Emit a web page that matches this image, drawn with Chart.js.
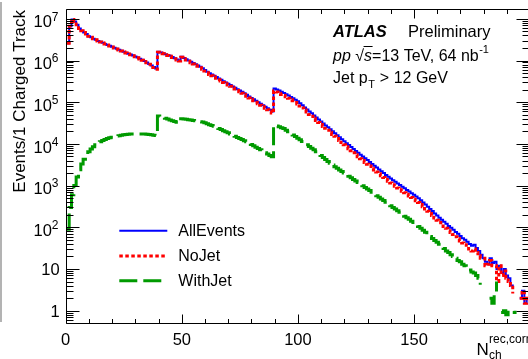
<!DOCTYPE html>
<html>
<head>
<meta charset="utf-8">
<script src="https://cdn.jsdelivr.net/npm/chart.js@4/dist/chart.umd.min.js"></script>
<style>
  html, body { margin: 0; padding: 0; background: #fff; overflow: hidden; }
  #wrap { width: 528px; height: 359px; overflow: hidden; position: relative; }
  canvas { display: block; }
</style>
</head>
<body>
<div id="wrap"><canvas id="nchChart" width="545" height="359"></canvas></div>
<script>
// N_ch histogram, bins of width 1 centred on 1..199
const allEvents = [
  2.6e6, 6.6e6, 9.6e6, 8.6e6, 7.2e6, 5.9e6, 5.2e6, 4.7e6, 4.3e6, 3.8e6,
  3.6e6, 3.35e6, 3.15e6, 2.95e6, 2.8e6, 2.65e6, 2.5e6, 2.37e6, 2.25e6, 2.13e6,
  2.02e6, 1.91e6, 1.8e6, 1.71e6, 1.62e6, 1.54e6, 1.46e6, 1.39e6, 1.32e6, 1.25e6,
  1.18e6, 1.11e6, 1.04e6, 9.7e5, 9.0e5, 8.3e5, 7.6e5, 7.0e5, 6.4e5, 1.62e6,
  1.56e6, 1.49e6, 1.42e6, 1.36e6, 1.31e6, 1.22e6, 1.13e6, 1.06e6, 1.0e6, 1.23e6,
  1.15e6, 1.07e6, 1.0e6, 9.3e5, 8.7e5, 8.1e5, 7.6e5, 7.1e5, 6.5e5, 5.9e5,
  5.4e5, 4.95e5, 4.6e5, 4.3e5, 4.0e5, 3.7e5, 3.45e5, 3.2e5, 2.98e5, 2.77e5,
  2.57e5, 2.39e5, 2.22e5, 2.06e5, 1.92e5, 1.78e5, 1.65e5, 1.5e5, 1.38e5, 1.27e5,
  1.17e5, 1.08e5, 1.0e5, 9.2e4, 8.5e4, 7.8e4, 7.2e4, 6.6e4, 6.0e4, 2.14e5,
  2.02e5, 1.9e5, 1.78e5, 1.67e5, 1.56e5, 1.45e5, 1.34e5, 1.24e5, 1.14e5, 1.05e5,
  9.4e4, 8.4e4, 7.5e4, 6.7e4, 6.0e4, 5.4e4, 4.8e4, 4.3e4, 3.85e4, 3.45e4,
  3.1e4, 2.78e4, 2.5e4, 2.24e4, 2.0e4, 1.8e4, 1.61e4, 1.45e4, 1.3e4, 1.16e4,
  1.04e4, 9.4e3, 8.4e3, 7.5e3, 6.8e3, 6.1e3, 5.5e3, 5.0e3, 4.5e3, 4.1e3,
  3.7e3, 3.3e3, 3.0e3, 2.7e3, 2.45e3, 2.2e3, 2.0e3, 1.8e3, 1.63e3, 1.48e3,
  1350, 1240, 1130, 1030, 940, 860, 790, 720, 660, 600,
  550, 500, 445, 395, 350, 310, 275, 245, 215, 192,
  170, 152, 136, 122, 108, 97, 87, 77, 70, 62,
  55, 50, 45, 40, 36, 38, 32, 27, 22, 18,
  15, 13, 18, 14, 15, 10, 12, 8, 10, 7,
  6, 4, 3.5, 0, 0, 2, 3, 1.5, 2
];
const noJet = [
  2.6e6, 6.6e6, 9.6e6, 8.6e6, 7.2e6, 5.9e6, 5.2e6, 4.7e6, 4.3e6, 3.8e6,
  3.6e6, 3.34e6, 3.14e6, 2.94e6, 2.79e6, 2.64e6, 2.49e6, 2.36e6, 2.24e6, 2.12e6,
  2.0e6, 1.89e6, 1.78e6, 1.69e6, 1.6e6, 1.52e6, 1.44e6, 1.37e6, 1.3e6, 1.23e6,
  1.16e6, 1.09e6, 1.02e6, 9.5e5, 8.8e5, 8.1e5, 7.4e5, 6.8e5, 6.2e5, 1.57e6,
  1.51e6, 1.45e6, 1.38e6, 1.32e6, 1.27e6, 1.18e6, 1.1e6, 1.03e6, 9.7e5, 1.19e6,
  1.11e6, 1.03e6, 9.6e5, 8.9e5, 8.3e5, 7.7e5, 7.25e5, 6.75e5, 6.15e5, 5.6e5,
  5.1e5, 4.65e5, 4.3e5, 4.0e5, 3.75e5, 3.45e5, 3.23e5, 2.99e5, 2.78e5, 2.58e5,
  2.4e5, 2.23e5, 2.07e5, 1.92e5, 1.79e5, 1.65e5, 1.53e5, 1.39e5, 1.27e5, 1.17e5,
  1.08e5, 1.0e5, 9.2e4, 8.5e4, 7.8e4, 7.2e4, 6.6e4, 6.1e4, 5.5e4, 1.86e5,
  1.75e5, 1.64e5, 1.54e5, 1.44e5, 1.35e5, 1.25e5, 1.16e5, 1.08e5, 9.9e4, 9.1e4,
  8.1e4, 7.3e4, 6.5e4, 5.8e4, 5.1e4, 4.6e4, 4.1e4, 3.65e4, 3.27e4, 2.93e4,
  2.63e4, 2.36e4, 2.12e4, 1.9e4, 1.69e4, 1.52e4, 1.35e4, 1.21e4, 1.08e4, 9.6e3,
  8.6e3, 7.7e3, 6.9e3, 6.1e3, 5.5e3, 4.9e3, 4.4e3, 4.0e3, 3.6e3, 3.27e3,
  2.94e3, 2.6e3, 2.37e3, 2.12e3, 1.92e3, 1.72e3, 1.56e3, 1.4e3, 1.27e3, 1.15e3,
  1050, 965, 880, 800, 735, 675, 620, 565, 520, 470,
  432, 395, 350, 310, 274, 242, 215, 191, 167, 148,
  131, 117, 105, 95, 83, 75, 67, 59, 54, 47,
  42, 38, 34, 30, 27, 30, 25, 21, 18, 18,
  12, 13, 16, 12, 12, 5, 12, 7, 9, 6,
  5, 4, 2.6, 0, 0, 2, 3, 1.5, 2
];
const withJet = [
  90, 300, 600, 1000, 1600, 2400, 3300, 4300, 5400, 6500,
  7600, 8600, 9600, 10500, 11300, 12100, 12800, 13400, 14000, 14500,
  15000, 15400, 15800, 16200, 16500, 16800, 17000, 17200, 17300, 17400,
  17400, 17400, 17300, 17200, 17000, 16800, 16500, 16200, 15900, 47000,
  45500, 44000, 41500, 39500, 37500, 36000, 34500, 33000, 32000, 40000,
  39500, 39000, 38200, 37400, 36600, 35800, 35000, 34200, 33500, 32000,
  30500, 29000, 27800, 26400, 25000, 23500, 22100, 20800, 19500, 18400,
  17300, 16200, 15200, 14300, 13500, 12700, 11900, 11200, 10500, 9700,
  9000, 8350, 7750, 7200, 6650, 6150, 5700, 5300, 4900, 28000,
  27000, 25800, 24500, 23300, 21400, 19600, 17900, 16400, 15000, 13700,
  12500, 11400, 10400, 9500, 8700, 7900, 7200, 6500, 5850, 5250,
  4700, 4250, 3800, 3450, 3100, 2850, 2600, 2380, 2180, 2000,
  1830, 1680, 1540, 1410, 1290, 1180, 1080, 990, 900, 830,
  760, 690, 630, 575, 525, 480, 440, 400, 365, 330,
  300, 275, 250, 230, 205, 185, 170, 155, 140, 130,
  118, 105, 95, 85, 76, 68, 60, 54, 48, 44,
  39, 35, 31, 27, 25, 22, 20, 18, 16, 15,
  13, 12, 11, 9.5, 8.5, 8, 7, 6, 4.2, 0,
  2.5, 0, 2, 1.5, 2.5, 5, 0, 0.9, 1, 0.8,
  1, 0, 0.9, 1, 0, 0, 0, 0, 0
];
const nchCentres = allEvents.map((v, k) => k + 1);
const xTickValues = [0, 50, 100, 150];
const yDecades = [1, 10, 1e2, 1e3, 1e4, 1e5, 1e6, 1e7];

const FONT = '"Liberation Sans", Arial, Helvetica, sans-serif';

// histogram outline: one point at each bin's left edge, plus the last right edge
function histPoints(values) {
  const pts = values.map((v, k) => ({ x: nchCentres[k] - 0.5, y: v }));
  pts.push({ x: nchCentres[nchCentres.length - 1] + 0.5, y: values[values.length - 1] });
  return pts;
}

// ROOT style frame, inward ticks, labels and text
const rootStyle = {
  id: 'rootStyle',
  afterDatasetsDraw(chart) {
    const { ctx, chartArea: a, scales: { x, y } } = chart;
    const L = Math.round(a.left) + 0.5, T = Math.round(a.top) + 0.5;
    const B = Math.round(a.bottom) + 0.5, R = Math.round(a.right) + 0.5;
    ctx.save();
    ctx.strokeStyle = '#000';
    ctx.lineWidth = 1;
    ctx.beginPath();
    ctx.moveTo(L, B); ctx.lineTo(L, T); ctx.lineTo(R, T); ctx.lineTo(R, B); ctx.lineTo(L, B);
    // x ticks, minor every 10
    for (let v = 0; v <= x.max; v += 10) {
      const px = Math.round(x.getPixelForValue(v)) + 0.5;
      const len = v % 50 === 0 ? 9 : 4.5;
      ctx.moveTo(px, B); ctx.lineTo(px, B - len);
      ctx.moveTo(px, T); ctx.lineTo(px, T + len);
    }
    // y ticks, log
    for (let n = -1; n <= 7; n++) {
      for (let k = 1; k <= 9; k++) {
        const v = k * Math.pow(10, n);
        if (v < y.min || v > y.max) continue;
        const py = Math.round(y.getPixelForValue(v)) + 0.5;
        const len = k === 1 ? 13 : 7;
        ctx.moveTo(L, py); ctx.lineTo(L + len, py);
        ctx.moveTo(R, py); ctx.lineTo(R - len, py);
      }
    }
    ctx.stroke();
    ctx.restore();
  },
  afterDraw(chart) {
    const { ctx, scales: { y } } = chart;
    ctx.save();
    ctx.fillStyle = '#000';

    // y tick labels
    yDecades.forEach((v) => {
      const py = y.getPixelForValue(v);
      const n = Math.round(Math.log10(v));
      if (n <= 1) {
        ctx.font = '16.5px ' + FONT;
        ctx.textAlign = 'right';
        ctx.textBaseline = 'alphabetic';
        ctx.fillText(String(v), 59.7, py + 6);
      } else {
        ctx.font = '12px ' + FONT;
        ctx.textAlign = 'right';
        ctx.textBaseline = 'alphabetic';
        const ew = ctx.measureText(String(n)).width;
        ctx.fillText(String(n), 58.5, py + 1.8);
        ctx.font = '16.5px ' + FONT;
        ctx.fillText('10', 58.5 - ew, py + 8.6);
      }
    });

    // y title
    ctx.save();
    ctx.translate(25.3, 10);
    ctx.rotate(-Math.PI / 2);
    ctx.font = '17px ' + FONT;
    ctx.textAlign = 'right';
    ctx.textBaseline = 'alphabetic';
    ctx.fillText('Events/1 Charged Track', 0, 0);
    ctx.restore();

    // x title N_ch^{rec,corr}
    ctx.textAlign = 'left';
    ctx.textBaseline = 'alphabetic';
    ctx.font = '17px ' + FONT;
    ctx.fillText('N', 476.5, 354.5);
    ctx.font = '12px ' + FONT;
    ctx.fillText('ch', 489, 358.5);
    ctx.fillText('rec,corr', 489, 342.5);

    // ATLAS label
    ctx.font = 'italic bold 16.5px ' + FONT;
    ctx.fillText('ATLAS', 333, 37);
    ctx.font = '16.5px ' + FONT;
    ctx.fillText('Preliminary', 408, 37);

    // pp sqrt(s)=13 TeV, 64 nb-1
    let cx = 333;
    ctx.font = 'italic 16px ' + FONT;
    ctx.fillText('pp', cx, 60.7);
    cx += ctx.measureText('pp').width + 4.5;
    ctx.font = '16px ' + FONT;
    ctx.fillText('\u221A', cx, 60.7);
    cx += ctx.measureText('\u221A').width;
    ctx.font = 'italic 16px ' + FONT;
    const sw = ctx.measureText('s').width;
    ctx.fillText('s', cx, 60.7);
    ctx.beginPath();
    ctx.lineWidth = 1;
    ctx.strokeStyle = '#000';
    ctx.moveTo(cx - 0.5, 46.5); ctx.lineTo(cx + sw + 0.5, 46.5);
    ctx.stroke();
    cx += sw;
    ctx.font = '16px ' + FONT;
    ctx.fillText('=13 TeV, 64 nb', cx, 60.7);
    cx += ctx.measureText('=13 TeV, 64 nb').width;
    ctx.font = '11px ' + FONT;
    ctx.fillText('-1', cx + 0.5, 53);

    // Jet pT > 12 GeV
    cx = 333;
    ctx.font = '16px ' + FONT;
    ctx.fillText('Jet p', cx, 82.7);
    cx += ctx.measureText('Jet p').width;
    ctx.font = '11px ' + FONT;
    ctx.fillText('T', cx + 0.5, 88);
    cx += ctx.measureText('T').width + 1;
    ctx.font = '16px ' + FONT;
    ctx.fillText(' > 12 GeV', cx, 82.7);

    // legend
    const legendRows = [230.7, 256, 280.7];
    [0, 1, 2].forEach((i) => {
      const ds = chart.data.datasets[i];
      const ly = legendRows[i];
      ctx.save();
      ctx.strokeStyle = ds.borderColor;
      ctx.lineWidth = ds.borderWidth;
      ctx.setLineDash(ds.borderDash || []);
      ctx.beginPath();
      ctx.moveTo(119.3, ly); ctx.lineTo(167.3, ly);
      ctx.stroke();
      ctx.restore();
      ctx.font = '16px ' + FONT;
      ctx.textBaseline = 'middle';
      ctx.fillText(ds.label, 178.3, ly + 0.5);
      ctx.textBaseline = 'alphabetic';
    });

    // grey edge from the neighbouring panel
    ctx.strokeStyle = '#9a9a9a';
    ctx.lineWidth = 1.5;
    ctx.beginPath();
    ctx.moveTo(1, 2); ctx.lineTo(1, 322);
    ctx.stroke();
    ctx.restore();
  }
};

const ctx = document.getElementById('nchChart').getContext('2d');
const nchChart = new Chart(ctx, {
  type: 'line',
  data: {
    datasets: [
      {
        label: 'AllEvents',
        data: histPoints(allEvents),
        borderColor: '#0000ff',
        borderWidth: 2,
        stepped: 'before',
        pointRadius: 0,
        fill: false,
        order: 2
      },
      {
        label: 'NoJet',
        data: histPoints(noJet),
        borderColor: '#ff0000',
        borderWidth: 3,
        borderDash: [3.5, 2.5],
        stepped: 'before',
        pointRadius: 0,
        fill: false,
        order: 1
      },
      {
        label: 'WithJet',
        data: histPoints(withJet),
        borderColor: '#009a00',
        borderWidth: 3,
        borderDash: [18, 6],
        stepped: 'before',
        pointRadius: 0,
        fill: false,
        order: 0
      }
    ]
  },
  options: {
    responsive: false,
    animation: false,
    events: [],
    layout: { padding: { left: 0, right: 16, top: 9, bottom: 0 } },
    plugins: {
      legend: { display: false },
      tooltip: { enabled: false }
    },
    scales: {
      x: {
        type: 'linear',
        min: 0,
        max: 199.5,
        grid: { display: false },
        border: { display: false },
        ticks: {
          color: '#000',
          font: { family: FONT, size: 16.5 },
          padding: 0,
          maxRotation: 0,
          autoSkip: false
        },
        afterBuildTicks: (s) => { s.ticks = xTickValues.map((v) => ({ value: v })); },
        afterFit: (s) => { s.height = 36; }
      },
      y: {
        type: 'logarithmic',
        min: 0.507,
        max: 1.72e7,
        grid: { display: false },
        border: { display: false },
        ticks: { display: false },
        afterFit: (s) => { s.width = 65.7; }
      }
    }
  },
  plugins: [rootStyle]
});
</script>
</body>
</html>
